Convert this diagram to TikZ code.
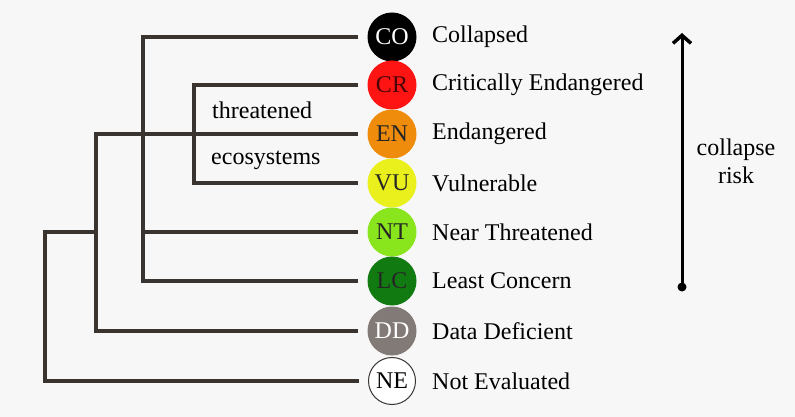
\documentclass[tikz,border=0pt]{standalone}
\usepackage{fontspec}
\setmainfont{LiberationSerif}[Extension=.ttf,UprightFont=*-Regular,BoldFont=*-Bold,ItalicFont=*-Italic]
\usetikzlibrary{arrows.meta}

\definecolor{paper}{HTML}{F7F7F7}
\definecolor{branchgray}{HTML}{3A3431}
\definecolor{crred}{HTML}{FF1414}
\definecolor{enorange}{HTML}{EF8C0C}
\definecolor{vuyellow}{HTML}{E9F01C}
\definecolor{ntgreen}{HTML}{8AE61C}
\definecolor{lcgreen}{HTML}{117A11}
\definecolor{ddgray}{HTML}{827A76}
\definecolor{crtext}{HTML}{4A0505}

\begin{document}
\begin{tikzpicture}[x=1pt,y=-1pt,
        branch/.style={line width=3.5pt,color=branchgray,line cap=rect},
        tobox/.style={branch,shorten >=11pt},
        status/.style={circle,minimum size=49pt,inner sep=0pt,font=\fontsize{24}{24}\selectfont},
        catlabel/.style={anchor=west,inner sep=0pt,font=\fontsize{24}{28}\selectfont}]
        \fill[paper] (0,0) rectangle (795,417);
        % status circles
        \node[status,fill=black,text=white] (co) at (392,37) {CO};
        \node[status,fill=crred,text=crtext] (cr) at (392,85) {CR};
        \node[status,fill=enorange,text=black!85] (en) at (392,134) {EN};
        \node[status,fill=vuyellow,text=black!85] (vu) at (392,183) {VU};
        \node[status,fill=ntgreen,text=black!85] (nt) at (392,232) {NT};
        \node[status,fill=lcgreen,text=black!85] (lc) at (392,281) {LC};
        \node[status,fill=ddgray,text=white] (dd) at (392,331) {DD};
        \node[status,draw=branchgray,line width=1pt,fill=white,text=black,minimum size=47pt] (ne) at (392,381) {NE};
        % category names
        \node[catlabel] (colab) at (432,37) {Collapsed};
        \node[catlabel] (crlab) at (432,85) {Critically Endangered};
        \node[catlabel] (enlab) at (432,134) {Endangered};
        \node[catlabel] (vulab) at (432,183) {Vulnerable};
        \node[catlabel] (ntlab) at (432,232) {Near Threatened};
        \node[catlabel] (lclab) at (432,281) {Least Concern};
        \node[catlabel] (ddlab) at (432,331) {Data Deficient};
        \node[catlabel] (nelab) at (432,381) {Not Evaluated};
        % tree
        \draw[branch] (143,37) -- (143,281);
        \draw[branch] (194,85) -- (194,183);
        \draw[branch] (96,134) -- (96,331);
        \draw[branch] (45,232) -- (45,381);
        \draw[branch] (45,232) -- (96,232);
        \draw[tobox] (143,37) -- (co);
        \draw[tobox] (194,85) -- (cr);
        \draw[tobox] (96,134) -- (en);
        \draw[tobox] (194,183) -- (vu);
        \draw[tobox] (143,232) -- (nt);
        \draw[tobox] (143,281) -- (lc);
        \draw[tobox] (96,331) -- (dd);
        \draw[tobox] (45,381) -- (ne);
        \node[catlabel] (threat) at (212,110) {threatened};
        \node[catlabel] (ecosys) at (211,160) {ecosystems};
        % risk arrow
        \node[circle,fill=black,inner sep=0pt,minimum size=9pt] (riskbase) at (682,287) {};
        \coordinate (risktop) at (682,33);
        \draw[line width=3pt,-{Straight Barb[length=8pt,width=18pt,line width=3.5pt]}] (riskbase.center) -- (risktop);
        \node[align=center,inner sep=0pt,font=\fontsize{24}{28}\selectfont] (risk) at (736,161) {collapse\\risk};
\end{tikzpicture}
\end{document}
